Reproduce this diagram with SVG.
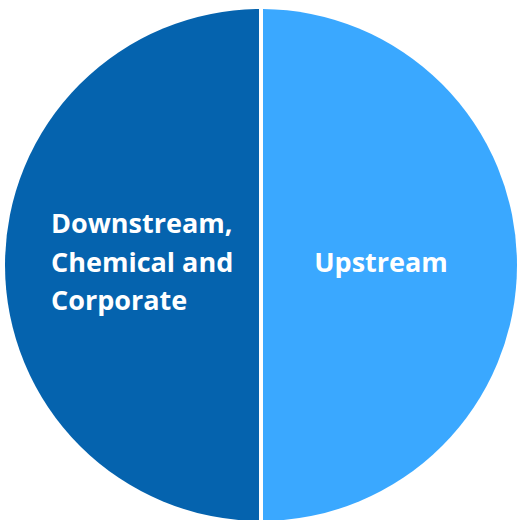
<svg xmlns="http://www.w3.org/2000/svg" width="520" height="520" viewBox="0 0 520 520">
<style>
.lbl{font-family:"Open Sans","Liberation Sans",sans-serif;font-weight:bold;font-size:27px;fill:#fff}
</style>
<defs>
<clipPath id="cl"><rect x="0" y="0" width="259" height="520"/></clipPath>
<clipPath id="cr"><rect x="263" y="0" width="257" height="520"/></clipPath>
</defs>
<rect width="520" height="520" fill="#fff"/>
<g id="downstream">
<circle cx="261" cy="265" r="256" fill="#0563AE" clip-path="url(#cl)"/>
<text class="lbl" x="51" y="233">Downstream,</text>
<text class="lbl" x="51" y="272">Chemical and</text>
<text class="lbl" x="51" y="310">Corporate</text>
</g>
<g id="upstream">
<circle cx="261" cy="265" r="256" fill="#3AA8FF" clip-path="url(#cr)"/>
<text class="lbl" x="381" y="272" text-anchor="middle">Upstream</text>
</g>
<g id="connectors"/>
</svg>
